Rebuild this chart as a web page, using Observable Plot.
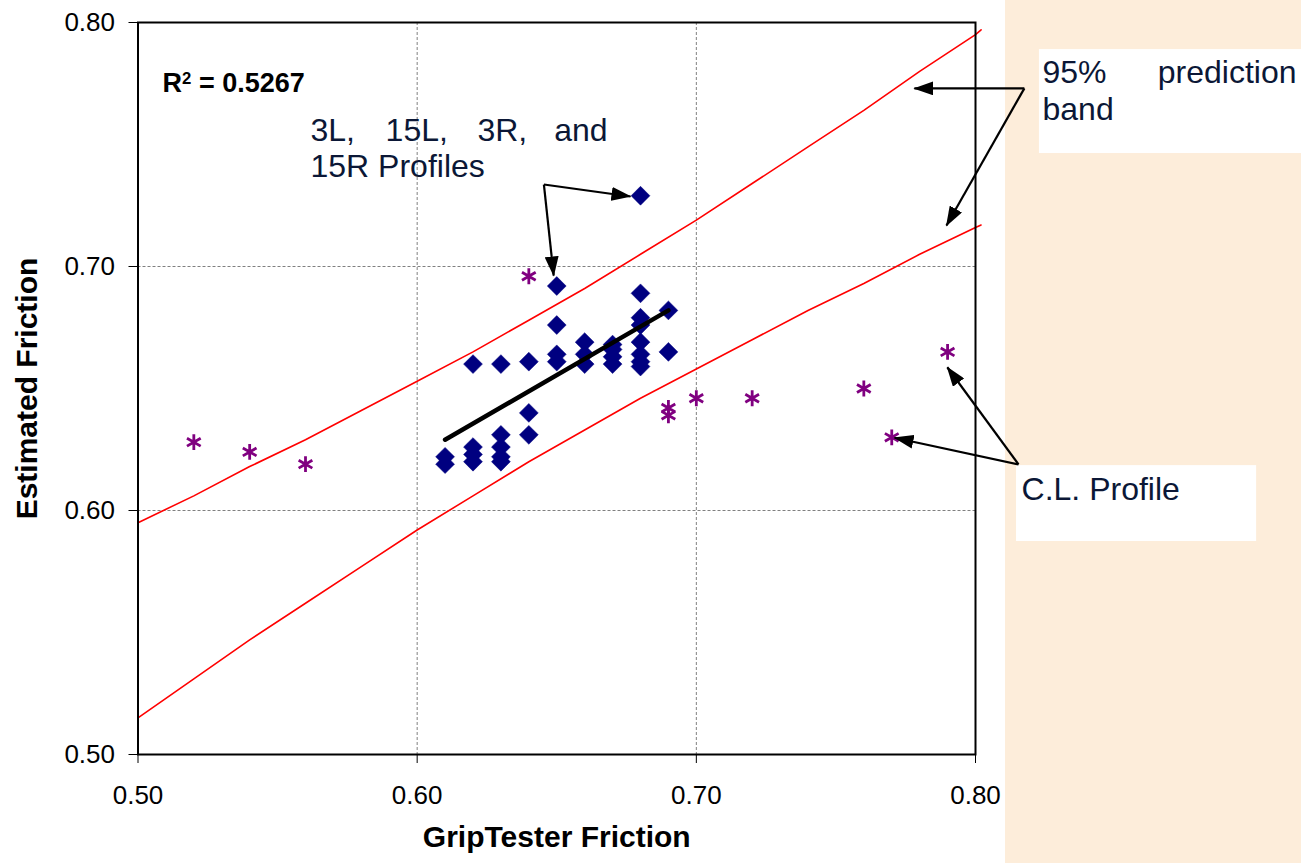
<!DOCTYPE html>
<html><head><meta charset="utf-8">
<script src="https://cdn.jsdelivr.net/npm/d3@7"></script>
<script src="https://cdn.jsdelivr.net/npm/@observablehq/plot@0.6"></script>
<style>
html,body{margin:0;padding:0;overflow:hidden;background:#fff;}
#chart{width:1301px;height:863px;background:linear-gradient(to right,#ffffff 0,#ffffff 1005px,#FDEDDA 1005px,#FDEDDA 100%);}
</style></head><body><div id="chart"></div>
<script>
// ---- data ----
const xTicks = [0.50, 0.60, 0.70, 0.80];
const yTicks = [0.50, 0.60, 0.70, 0.80];
const gridValues = [0.60, 0.70];

// 3L, 15L, 3R and 15R profiles (diamonds)
const profileX = [0.68,0.65,0.68,0.69,0.68,0.68,0.65,0.68,0.68,0.68,0.68,0.69,0.67,0.67,0.67,0.67,0.66,0.66,0.66,0.65,0.65,0.64,0.64,0.64,0.63,0.63,0.63,0.63,0.63,0.62,0.62,0.62,0.62,0.61,0.61];
const profileY = [0.729,0.692,0.689,0.682,0.679,0.676,0.676,0.669,0.664,0.661,0.659,0.665,0.668,0.666,0.663,0.660,0.669,0.664,0.660,0.664,0.661,0.661,0.640,0.631,0.660,0.631,0.626,0.622,0.620,0.660,0.626,0.623,0.620,0.622,0.619];

// C.L. profile (stars)
const clX = [0.52,0.54,0.56,0.64,0.69,0.69,0.70,0.72,0.76,0.79,0.77];
const clY = [0.628,0.624,0.619,0.696,0.642,0.639,0.646,0.646,0.650,0.665,0.630];

// trend line
const trendX = [0.61, 0.69];
const trendY = [0.629, 0.682];

// 95% prediction band
const bandX = [0.50,0.52,0.54,0.56,0.58,0.60,0.62,0.64,0.66,0.68,0.70,0.72,0.74,0.76,0.78,0.80,0.802];
const bandUpper = [0.595,0.606,0.618,0.629,0.641,0.653,0.665,0.678,0.691,0.705,0.719,0.734,0.749,0.764,0.780,0.795,0.797];
const bandLower = [0.515,0.531,0.547,0.562,0.577,0.592,0.606,0.620,0.633,0.646,0.658,0.670,0.682,0.693,0.705,0.716,0.717];

// annotation arrows
const arrowX1 = [0.8175,0.8175,0.6454,0.6454,0.8154,0.8154];
const arrowY1 = [0.7730,0.7730,0.7336,0.7336,0.6189,0.6189];
const arrowX2 = [0.7781,0.7896,0.6764,0.6489,0.7899,0.7710];
const arrowY2 = [0.7730,0.7168,0.7287,0.6963,0.6587,0.6298];

// annotation boxes
const boxX1 = [0.8229, 0.8147];
const boxX2 = [0.9200, 0.9007];
const boxY1 = [0.7889, 0.6184];
const boxY2 = [0.7463, 0.5873];

// annotation labels
const profileWords = ["3L,", "15L,", "3R,"];
const profileWordX = [0.5618, 0.5887, 0.6216];

// ---- chart ----
const profiles = profileX.map((x, i) => ({x, y: profileY[i]}));
const cl = clX.map((x, i) => ({x, y: clY[i]}));
const trend = trendX.map((x, i) => ({x, y: trendY[i]}));
const upper = bandX.map((x, i) => ({x, y: bandUpper[i]}));
const lower = bandX.map((x, i) => ({x, y: bandLower[i]}));
const arrows = arrowX1.map((x1, i) => ({x1, y1: arrowY1[i], x2: arrowX2[i], y2: arrowY2[i]}));
const boxes = boxX1.map((x1, i) => ({x1, x2: boxX2[i], y1: boxY1[i], y2: boxY2[i]}));

const annoColor = "#0b1736";
const fam = "Liberation Sans, Arial, Helvetica, sans-serif";
const annoSize = 32;

const svg = Plot.plot({
  width: 1301,
  height: 863,
  marginLeft: 137.5,
  marginRight: 326,
  marginTop: 22,
  marginBottom: 109,
  style: {fontSize: "26px", fontFamily: fam, background: "transparent", color: "black", overflow: "visible"},
  x: {domain: [0.5, 0.8], ticks: xTicks, tickFormat: d3.format(".2f"), tickSize: 9, tickPadding: 22, label: null},
  y: {domain: [0.5, 0.8], ticks: yTicks, tickFormat: d3.format(".2f"), tickSize: 9, tickPadding: 14, label: null},
  marks: [
    Plot.rect(boxes, {x1: "x1", x2: "x2", y1: "y1", y2: "y2", fill: "white"}),
    Plot.ruleX(gridValues, {stroke: "#808080", strokeWidth: 1, strokeDasharray: "3,2"}),
    Plot.ruleY(gridValues, {stroke: "#808080", strokeWidth: 1, strokeDasharray: "3,2"}),
    Plot.line(upper, {x: "x", y: "y", stroke: "#ff0000", strokeWidth: 1.6}),
    Plot.line(lower, {x: "x", y: "y", stroke: "#ff0000", strokeWidth: 1.6}),
    Plot.dot(profiles, {x: "x", y: "y", symbol: "diamond2", r: 8.5, fill: "#000080", stroke: "#000080", strokeWidth: 0.5}),
    Plot.dot(cl, {x: "x", y: "y", symbol: "asterisk", r: 7.5, stroke: "#800080", strokeWidth: 2.8}),
    Plot.line(trend, {x: "x", y: "y", stroke: "black", strokeWidth: 4.5}),
    Plot.frame({stroke: "black", strokeWidth: 2}),
    Plot.link(arrows, {x1: "x1", y1: "y1", x2: "x2", y2: "y2", stroke: "black", strokeWidth: 2.2}),
    Plot.text(["R2 = 0.5267"], {x: [0.5088], y: [0.7717], textAnchor: "start", lineAnchor: "bottom", fontSize: 27, fontWeight: "bold", fill: "black"}),
    Plot.text(profileWords, {x: profileWordX, y: [0.7516, 0.7516, 0.7516], textAnchor: "start", lineAnchor: "bottom", fontSize: annoSize, fill: annoColor}),
    Plot.text(["and"], {x: [0.6682], y: [0.7516], textAnchor: "end", lineAnchor: "bottom", fontSize: annoSize, fill: annoColor}),
    Plot.text(["15R Profiles"], {x: [0.5618], y: [0.7365], textAnchor: "start", lineAnchor: "bottom", fontSize: annoSize, fill: annoColor}),
    Plot.text(["95%", "band"], {x: [0.824, 0.824], y: [0.7754, 0.7602], textAnchor: "start", lineAnchor: "bottom", fontSize: annoSize, fill: annoColor}),
    Plot.text(["prediction"], {x: [0.915], y: [0.7754], textAnchor: "end", lineAnchor: "bottom", fontSize: annoSize, fill: annoColor}),
    Plot.text(["C.L. Profile"], {x: [0.8165], y: [0.6045], textAnchor: "start", lineAnchor: "bottom", fontSize: annoSize, fill: annoColor}),
    Plot.text(["Estimated Friction"], {frameAnchor: "left", dx: -111, rotate: -90, textAnchor: "middle", fontSize: 30, fontWeight: "bold", fill: "black"}),
    Plot.text(["GripTester Friction"], {frameAnchor: "bottom", dy: 92, textAnchor: "middle", fontSize: 30, fontWeight: "bold", fill: "black"})
  ]
});

const s = d3.select(svg);
// filled triangular arrowheads
s.append("defs").html('<marker id="tri" viewBox="0 0 20 14" refX="19" refY="7" markerWidth="20" markerHeight="14" markerUnits="userSpaceOnUse" orient="auto"><path d="M0,0L20,7L0,14Z" fill="black"/></marker>');
s.selectAll('g[aria-label="link"] path').attr("marker-end", "url(#tri)");
// superscript in R²
s.selectAll("text").filter(function() { return this.textContent === "R2 = 0.5267"; })
  .each(function() {
    const t = d3.select(this);
    t.text(null);
    t.append("tspan").text("R");
    t.append("tspan").attr("dy", "-0.45em").attr("font-size", "0.62em").text("2");
    t.append("tspan").attr("dy", "0.28em").text(" = 0.5267");
  });

document.getElementById("chart").appendChild(svg);
</script></body></html>
